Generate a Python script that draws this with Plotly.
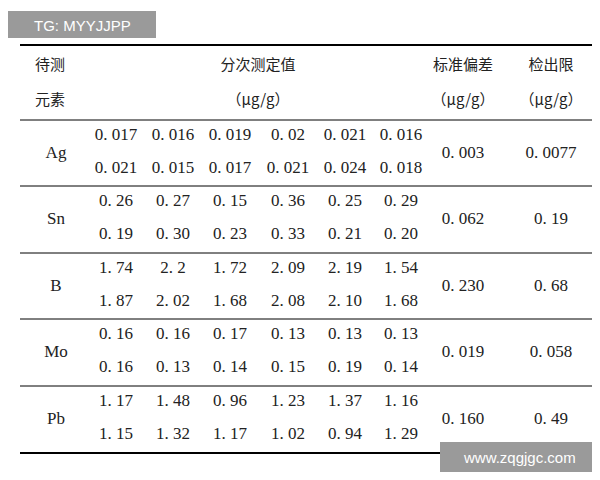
import plotly.graph_objects as go

elements = ["Ag", "Sn", "B", "Mo", "Pb"]
values = [
    [["0.017", "0.016", "0.019", "0.02", "0.021", "0.016"],
     ["0.021", "0.015", "0.017", "0.021", "0.024", "0.018"]],
    [["0.26", "0.27", "0.15", "0.36", "0.25", "0.29"],
     ["0.19", "0.30", "0.23", "0.33", "0.21", "0.20"]],
    [["1.74", "2.2", "1.72", "2.09", "2.19", "1.54"],
     ["1.87", "2.02", "1.68", "2.08", "2.10", "1.68"]],
    [["0.16", "0.16", "0.17", "0.13", "0.13", "0.13"],
     ["0.16", "0.13", "0.14", "0.15", "0.19", "0.14"]],
    [["1.17", "1.48", "0.96", "1.23", "1.37", "1.16"],
     ["1.15", "1.32", "1.17", "1.02", "0.94", "1.29"]],
]
std_dev = ["0.003", "0.062", "0.230", "0.019", "0.160"]
det_limit = ["0.0077", "0.19", "0.68", "0.058", "0.49"]

CJK = "Noto Sans CJK SC"
SERIF = "Liberation Serif"
col_x = [108, 165, 222, 280, 337, 393]
row_top = [112, 178, 245, 311, 378]
row_h = 67

def fmt(s):
    return s.replace(".", ". ")

xs, ys, ts = [], [], []
for i, el in enumerate(elements):
    top = row_top[i]
    mid = top + row_h / 2
    xs += [48, 455, 543]
    ys += [mid, mid, mid]
    ts += [el, fmt(std_dev[i]), fmt(det_limit[i])]
    for j, sub in enumerate(values[i]):
        y = top + 16 + j * 33
        for k, v in enumerate(sub):
            xs.append(col_x[k]); ys.append(y); ts.append(fmt(v))

hx = [42, 42, 250, 250, 455, 455, 543, 543]
hy = [58, 93, 58, 93, 58, 93, 58, 93]
ht = ["待测", "元素", "分次测定值", "（μg/g）", "标准偏差", "（μg/g）", "检出限", "（μg/g）"]

fig = go.Figure()
fig.add_trace(go.Scatter(x=xs, y=ys, text=ts, mode="text",
                         textfont=dict(family=SERIF, size=17, color="#222")))
fig.add_trace(go.Scatter(x=hx, y=hy, text=ht, mode="text",
                         textfont=dict(family=CJK, size=15, color="#222")))

shapes = [dict(type="line", x0=12, x1=590, y0=37, y1=37, line=dict(color="black", width=2)),
          dict(type="line", x0=12, x1=590, y0=112, y1=112, line=dict(color="black", width=1)),
          dict(type="line", x0=12, x1=590, y0=445, y1=445, line=dict(color="black", width=2))]
for t in row_top[1:]:
    shapes.append(dict(type="line", x0=12, x1=590, y0=t, y1=t, line=dict(color="black", width=1)))
shapes += [dict(type="rect", x0=0, x1=148, y0=3, y1=30, fillcolor="#9a9a9a", line_width=0),
           dict(type="rect", x0=432, x1=590, y0=434, y1=464, fillcolor="#9a9a9a", line_width=0)]

fig.update_layout(
    width=600, height=480, margin=dict(l=0, r=0, t=0, b=0),
    plot_bgcolor="white", paper_bgcolor="white", showlegend=False,
    xaxis=dict(range=[0, 600], visible=False, fixedrange=True),
    yaxis=dict(range=[480, 0], visible=False, fixedrange=True),
    shapes=shapes,
    annotations=[
        dict(x=74, y=17, text="TG: MYYJJPP", showarrow=False,
             font=dict(family="Liberation Sans", size=15, color="white")),
        dict(x=511, y=449, text="www.zqgjgc.com", showarrow=False,
             font=dict(family="Liberation Sans", size=15, color="white")),
    ],
)
fig.write_html("out.html")
